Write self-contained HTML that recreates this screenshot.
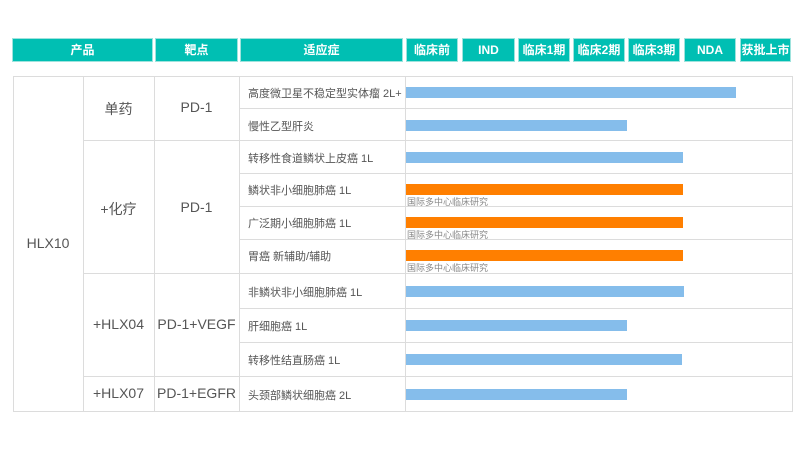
<!DOCTYPE html>
<html><head><meta charset="utf-8"><style>
body{margin:0;width:800px;height:450px;background:#fff;position:relative;overflow:hidden;font-family:"Liberation Sans","Noto Sans CJK SC",sans-serif;}
.h{position:absolute;top:38px;height:24px;background:#00bfb3;color:#fff;font-size:12px;font-weight:bold;text-align:center;line-height:24px;box-shadow:0 0 0 1px #9ee3dd inset;}
.l{position:absolute;background:#dcdcdc;}
.t{position:absolute;color:#555;text-align:center;}
.i{position:absolute;left:248px;font-size:11px;color:#555;}
.b{position:absolute;left:406px;height:11px;background:#85bdeb;}
.o{position:absolute;left:406px;height:11px;background:#ff7f00;}
.s{position:absolute;left:407px;font-size:9px;color:#888;}
</style></head><body>
<div class="h" style="left:12px;width:141px">产品</div>
<div class="h" style="left:155px;width:83px">靶点</div>
<div class="h" style="left:240px;width:163px">适应症</div>
<div class="h" style="left:406px;width:52px">临床前</div>
<div class="h" style="left:462px;width:53px">IND</div>
<div class="h" style="left:518px;width:52px">临床1期</div>
<div class="h" style="left:573px;width:52px">临床2期</div>
<div class="h" style="left:628px;width:52px">临床3期</div>
<div class="h" style="left:684px;width:52px">NDA</div>
<div class="h" style="left:740px;width:51px">获批上市</div>

<div class="l" style="left:13px;top:76px;width:779px;height:1px"></div>
<div class="l" style="left:13px;top:411px;width:779px;height:1px"></div>
<div class="l" style="left:13px;top:76px;width:1px;height:336px"></div>
<div class="l" style="left:792px;top:76px;width:1px;height:336px"></div>
<div class="l" style="left:83px;top:76px;width:1px;height:336px"></div>
<div class="l" style="left:154px;top:76px;width:1px;height:336px"></div>
<div class="l" style="left:239px;top:76px;width:1px;height:336px"></div>
<div class="l" style="left:405px;top:76px;width:1px;height:336px"></div>
<div class="l" style="left:83px;top:140px;width:709px;height:1px"></div>
<div class="l" style="left:83px;top:273px;width:709px;height:1px"></div>
<div class="l" style="left:83px;top:376px;width:709px;height:1px"></div>
<div class="l" style="left:239px;top:108px;width:553px;height:1px"></div>
<div class="l" style="left:239px;top:173px;width:553px;height:1px"></div>
<div class="l" style="left:239px;top:206px;width:553px;height:1px"></div>
<div class="l" style="left:239px;top:239px;width:553px;height:1px"></div>
<div class="l" style="left:239px;top:308px;width:553px;height:1px"></div>
<div class="l" style="left:239px;top:342px;width:553px;height:1px"></div>

<div class="t" style="left:13px;width:70px;top:235px;font-size:14px">HLX10</div>
<div class="t" style="left:83px;width:71px;top:99px;font-size:14px">单药</div>
<div class="t" style="left:83px;width:71px;top:199px;font-size:14px">+化疗</div>
<div class="t" style="left:83px;width:71px;top:316px;font-size:14px">+HLX04</div>
<div class="t" style="left:83px;width:71px;top:385px;font-size:14px">+HLX07</div>
<div class="t" style="left:154px;width:85px;top:99px;font-size:14px">PD-1</div>
<div class="t" style="left:154px;width:85px;top:199px;font-size:14px">PD-1</div>
<div class="t" style="left:154px;width:85px;top:316px;font-size:14px">PD-1+VEGF</div>
<div class="t" style="left:154px;width:85px;top:385px;font-size:14px">PD-1+EGFR</div>

<div class="i" style="top:85px">高度微卫星不稳定型实体瘤 2L+</div>
<div class="i" style="top:118px">慢性乙型肝炎</div>
<div class="i" style="top:150px">转移性食道鳞状上皮癌 1L</div>
<div class="i" style="top:182px">鳞状非小细胞肺癌 1L</div>
<div class="i" style="top:215px">广泛期小细胞肺癌 1L</div>
<div class="i" style="top:248px">胃癌 新辅助/辅助</div>
<div class="i" style="top:284px">非鳞状非小细胞肺癌 1L</div>
<div class="i" style="top:318px">肝细胞癌 1L</div>
<div class="i" style="top:352px">转移性结直肠癌 1L</div>
<div class="i" style="top:387px">头颈部鳞状细胞癌 2L</div>

<div class="b" style="top:87px;width:330px"></div>
<div class="b" style="top:120px;width:221px"></div>
<div class="b" style="top:152px;width:277px"></div>
<div class="o" style="top:184px;width:277px"></div>
<div class="s" style="top:195px">国际多中心临床研究</div>
<div class="o" style="top:217px;width:277px"></div>
<div class="s" style="top:228px">国际多中心临床研究</div>
<div class="o" style="top:250px;width:277px"></div>
<div class="s" style="top:261px">国际多中心临床研究</div>
<div class="b" style="top:286px;width:278px"></div>
<div class="b" style="top:320px;width:221px"></div>
<div class="b" style="top:354px;width:276px"></div>
<div class="b" style="top:389px;width:221px"></div>
</body></html>
